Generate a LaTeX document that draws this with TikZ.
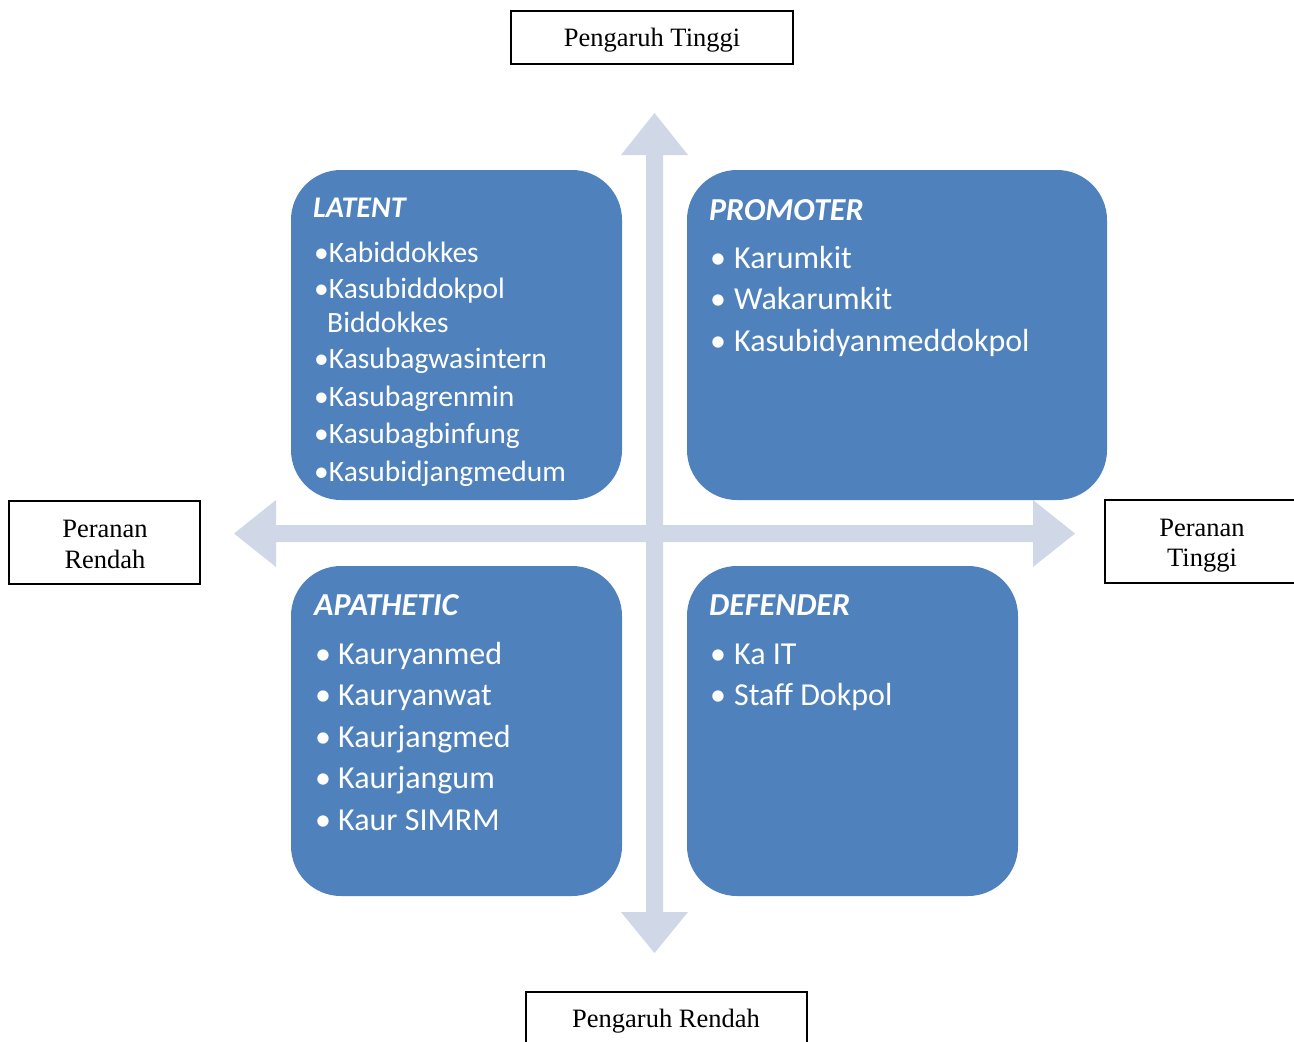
\documentclass[tikz,border=0pt]{standalone}
\usepackage{fontspec}
\setmainfont{Liberation Serif}
\newfontfamily\calibrifont{Carlito}
\definecolor{boxblue}{HTML}{4F81BD}
\definecolor{arrowgray}{HTML}{D0D8E8}
\tikzset{
  quad/.style={fill=boxblue, draw=none, rounded corners=50pt},
  lbl/.style={draw=black, line width=2pt, fill=white},
  head/.style={anchor=base west, inner sep=0pt, text=white, font=\calibrifont\fontsize{32}{32}\selectfont\bfseries\itshape},
  headA/.style={head, font=\calibrifont\fontsize{30}{30}\selectfont\bfseries\itshape},
  itemA/.style={anchor=base west, inner sep=0pt, text=white, font=\calibrifont\fontsize{29.5}{29.5}\selectfont},
  itemB/.style={anchor=base west, inner sep=0pt, text=white, font=\calibrifont\fontsize{32}{32}\selectfont},
  ser/.style={anchor=base, inner sep=0pt, font=\fontsize{26.5}{26.5}\selectfont},
  arr/.style={fill=arrowgray, draw=none}
}
\begin{document}
\begin{tikzpicture}[x=1pt,y=-1pt]
\clip (0,0) rectangle (1294,1042);
\fill[white] (0,0) rectangle (1294,1042);

% cross arrows
\fill[arr] (654.5,113) -- (688,155) -- (663,155) -- (663,525) -- (1033,525) -- (1033,500)
  -- (1075,533.5) -- (1033,567) -- (1033,542) -- (663,542) -- (663,912) -- (688,912)
  -- (654.5,953) -- (621,912) -- (646,912) -- (646,542) -- (276,542) -- (276,567)
  -- (234,533.5) -- (276,500) -- (276,525) -- (646,525) -- (646,155) -- (621,155) -- cycle;

% quadrant boxes
\path[quad] (291,170) rectangle (622,500);
\node[inner sep=0pt] (latent) at (456.5,335) {};
\path[quad] (687,170) rectangle (1107,500);
\node[inner sep=0pt] (promoter) at (897,335) {};
\path[quad] (291,566) rectangle (622,896);
\node[inner sep=0pt] (apathetic) at (456.5,731) {};
\path[quad] (687,566) rectangle (1018,896);
\node[inner sep=0pt] (defender) at (852.5,731) {};

% LATENT
\node[headA] (lh) at (313,217) {LATENT};
\node[itemA] (l1) at (314,262) {•Kabiddokkes};
\node[itemA] (l2) at (314,298) {•Kasubiddokpol};
\node[itemA] (l2b) at (327,332) {Biddokkes};
\node[itemA] (l3) at (314,368) {•Kasubagwasintern};
\node[itemA] (l4) at (314,406) {•Kasubagrenmin};
\node[itemA] (l5) at (314,443) {•Kasubagbinfung};
\node[itemA] (l6) at (314,481) {•Kasubidjangmedum};

% PROMOTER
\node[head] (ph) at (709,220) {PROMOTER};
\node[itemB] (pb1) at (710,268) {•};
\node[itemB] (p1) at (734,268) {Karumkit};
\node[itemB] (pb2) at (710,309.5) {•};
\node[itemB] (p2) at (734,309.5) {Wakarumkit};
\node[itemB] (pb3) at (710,351) {•};
\node[itemB] (p3) at (734,351) {Kasubidyanmeddokpol};

% APATHETIC
\node[head] (ah) at (314,615) {APATHETIC};
\node[itemB] (ab1) at (315,664) {•};
\node[itemB] (a1) at (338,664) {Kauryanmed};
\node[itemB] (ab2) at (315,705.5) {•};
\node[itemB] (a2) at (338,705.5) {Kauryanwat};
\node[itemB] (ab3) at (315,747) {•};
\node[itemB] (a3) at (338,747) {Kaurjangmed};
\node[itemB] (ab4) at (315,788.5) {•};
\node[itemB] (a4) at (338,788.5) {Kaurjangum};
\node[itemB] (ab5) at (315,830) {•};
\node[itemB] (a5) at (338,830) {Kaur SIMRM};

% DEFENDER
\node[head] (dh) at (709,615) {DEFENDER};
\node[itemB] (db1) at (710,664) {•};
\node[itemB] (d1) at (734,664) {Ka IT};
\node[itemB] (db2) at (710,705.5) {•};
\node[itemB] (d2) at (734,705.5) {Staff Dokpol};

% label boxes
\draw[lbl] (511,11) rectangle (793,64);
\node[ser] (pt) at (652,46) {Pengaruh Tinggi};
\draw[lbl] (9,501) rectangle (200,584);
\node[ser] (pr1) at (105,537) {Peranan};
\node[ser] (pr2) at (105,568) {Rendah};
\draw[lbl] (1105,500) rectangle (1310,583);
\node[ser] (ptg1) at (1202,536) {Peranan};
\node[ser] (ptg2) at (1202,566) {Tinggi};
\draw[lbl] (526,992) rectangle (807,1060);
\node[ser] (prd) at (666,1027) {Pengaruh Rendah};
\end{tikzpicture}
\end{document}
